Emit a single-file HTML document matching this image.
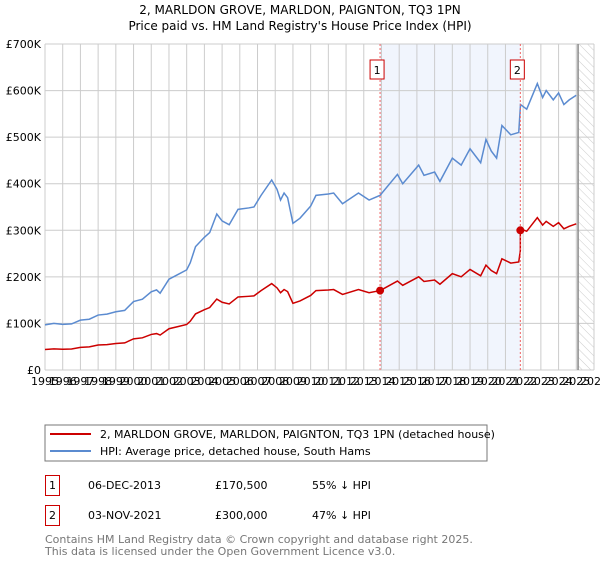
<!DOCTYPE html>
<html><head><meta charset="utf-8"><style>
body{margin:0;background:#fff;font-family:"Liberation Sans","DejaVu Sans",sans-serif;}
svg text{font-family:"DejaVu Sans","Liberation Sans",sans-serif;}
</style></head><body>
<svg id="c" width="600" height="560" xmlns="http://www.w3.org/2000/svg">
<defs><pattern id="hatch" width="6" height="6" patternUnits="userSpaceOnUse" patternTransform="rotate(-45)"><line x1="0" y1="0" x2="0" y2="6" stroke="#ccc" stroke-width="1"/></pattern></defs>
<text x="300" y="14" font-size="12" text-anchor="middle">2, MARLDON GROVE, MARLDON, PAIGNTON, TQ3 1PN</text>
<text x="300" y="30" font-size="12" text-anchor="middle">Price paid vs. HM Land Registry's House Price Index (HPI)</text>
<g id="grid"></g><g id="plot"></g><g id="axes"></g>
<rect x="45" y="425" width="442" height="36" fill="#fff" stroke="#777"/>
<line x1="50" y1="434" x2="91" y2="434" stroke="#cc0000" stroke-width="2"/>
<text x="100" y="438" font-size="11">2, MARLDON GROVE, MARLDON, PAIGNTON, TQ3 1PN (detached house)</text>
<line x1="50" y1="451" x2="91" y2="451" stroke="#5b8bd0" stroke-width="2"/>
<text x="100" y="455" font-size="11">HPI: Average price, detached house, South Hams</text>
<g font-size="11">
<rect x="45.5" y="475.5" width="14" height="20" fill="none" stroke="#cc0000"/>
<text x="52.5" y="489" text-anchor="middle">1</text>
<text x="88" y="489">06-DEC-2013</text>
<text x="215" y="489">£170,500</text>
<text x="312" y="489">55% ↓ HPI</text>
<rect x="45.5" y="505.5" width="14" height="20" fill="none" stroke="#cc0000"/>
<text x="52.5" y="519" text-anchor="middle">2</text>
<text x="88" y="519">03-NOV-2021</text>
<text x="215" y="519">£300,000</text>
<text x="312" y="519">47% ↓ HPI</text>
</g>
<text x="45" y="543" font-size="11" fill="#777">Contains HM Land Registry data © Crown copyright and database right 2025.</text>
<text x="45" y="555" font-size="11" fill="#777">This data is licensed under the Open Government Licence v3.0.</text>
</svg>
<script>
const hpiYears=[1995,1995.5,1996,1996.5,1997,1997.5,1998,1998.5,1999,1999.5,2000,2000.5,2001,2001.3,2001.5,2002,2002.5,2003,2003.2,2003.5,2004,2004.3,2004.7,2005,2005.4,2005.9,2006.5,2006.8,2007.2,2007.8,2008.1,2008.3,2008.5,2008.7,2009,2009.4,2010,2010.3,2011,2011.3,2011.8,2012.7,2013.3,2013.92,2014.9,2015.2,2016.1,2016.4,2017,2017.3,2018,2018.5,2019,2019.6,2019.9,2020.2,2020.5,2020.8,2021.3,2021.75,2021.85,2022.2,2022.8,2023.1,2023.3,2023.7,2024,2024.3,2024.6,2025];
const hpiValues=[97,100,98,99,107,109,118,120,125,128,147,152,168,172,165,195,205,215,230,265,285,295,335,320,312,345,348,350,375,408,388,365,380,370,315,326,352,375,378,380,357,380,365,375,420,400,440,418,425,405,455,440,475,445,495,470,455,525,505,510,570,560,615,585,600,580,595,570,580,590];
const saleYears=[2013.92,2021.84];
const salePrices=[170.5,300];
const yTicks=[0,100,200,300,400,500,600,700];
const yTickLabels=["£0","£100K","£200K","£300K","£400K","£500K","£600K","£700K"];
const xTicks=[1995,1996,1997,1998,1999,2000,2001,2002,2003,2004,2005,2006,2007,2008,2009,2010,2011,2012,2013,2014,2015,2016,2017,2018,2019,2020,2021,2022,2023,2024,2025,2026];
const NS="http://www.w3.org/2000/svg";
const X0=45,X1=594,Y0=370,Y1=44;
const xs=y=>X0+(y-1995)/31*(X1-X0);
const ys=v=>Y0-v/700*(Y0-Y1);
function mk(parent,tag,attrs){const e=document.createElementNS(NS,tag);for(const k in attrs)e.setAttribute(k,attrs[k]);document.getElementById(parent).appendChild(e);return e;}
function hpiAt(t){for(let i=0;i<hpiYears.length-1;i++){if(t<=hpiYears[i+1]){const f=(t-hpiYears[i])/(hpiYears[i+1]-hpiYears[i]);return hpiValues[i]+f*(hpiValues[i+1]-hpiValues[i]);}}return hpiValues[hpiValues.length-1];}
let r=mk('grid','rect',{x:xs(saleYears[0]),y:Y1,width:xs(saleYears[1])-xs(saleYears[0]),height:Y0-Y1,fill:'#eef2fc',opacity:0.8});


r=mk('grid','rect',{x:xs(2025.1),y:Y1,width:X1-xs(2025.1),height:Y0-Y1,fill:'url(#hatch)'});


xTicks.forEach(t=>{const l=mk('grid','line',{x1:xs(t),x2:xs(t),y1:Y1,y2:Y0,stroke:'#ccc'});


const tx=mk('axes','text',{x:xs(t),y:Y0+15,'font-size':11,'text-anchor':'middle'});tx.textContent=t;

});
yTicks.forEach((v,i)=>{const l=mk('grid','line',{x1:X0,x2:X1,y1:ys(v),y2:ys(v),stroke:'#ccc'});


const tx=mk('axes','text',{x:X0-4,y:ys(v)+4,'font-size':11,'text-anchor':'end'});tx.textContent=yTickLabels[i];

});
r=mk('grid','line',{x1:xs(2025.1),x2:xs(2025.1),y1:Y1,y2:Y0,stroke:'#888','stroke-width':1.5});


let p=mk('plot','polyline',{points:hpiYears.map((t,i)=>xs(t)+','+ys(hpiValues[i])).join(' '),fill:'none',stroke:'#5b8bd0','stroke-width':1.5});


const h1=hpiAt(saleYears[0]),h2=hpiAt(saleYears[1]);
const pts=[];let s0=false,s1=false;
hpiYears.forEach((t,i)=>{let v;if(t<saleYears[1])v=salePrices[0]*hpiValues[i]/h1;else v=salePrices[1]*hpiValues[i]/h2;
 if(t>=saleYears[0]&&!s0){pts.push([saleYears[0],salePrices[0]]);s0=true;}
 if(t>=saleYears[1]&&!s1){pts.push([saleYears[1],salePrices[0]*h2/h1]);pts.push([saleYears[1],salePrices[1]]);s1=true;}
 pts.push([t,v]);});
p=mk('plot','polyline',{points:pts.map(q=>xs(q[0])+','+ys(q[1])).join(' '),fill:'none',stroke:'#cc0000','stroke-width':1.5});


saleYears.forEach((t,i)=>{const l=mk('plot','line',{x1:xs(t),x2:xs(t),y1:Y1,y2:Y0,stroke:'#f06060','stroke-dasharray':'2,2'});


const c=mk('plot','circle',{cx:xs(t),cy:ys(salePrices[i]),r:4,fill:'#cc0000'});


const b=mk('plot','rect',{x:xs(t)-10,y:60,width:14,height:19,fill:'#fff',stroke:'#cc0000'});


const tx=mk('plot','text',{x:xs(t)-3,y:74,'font-size':11,'text-anchor':'middle'});tx.textContent=String(i+1);

});
</script>
</body></html>
